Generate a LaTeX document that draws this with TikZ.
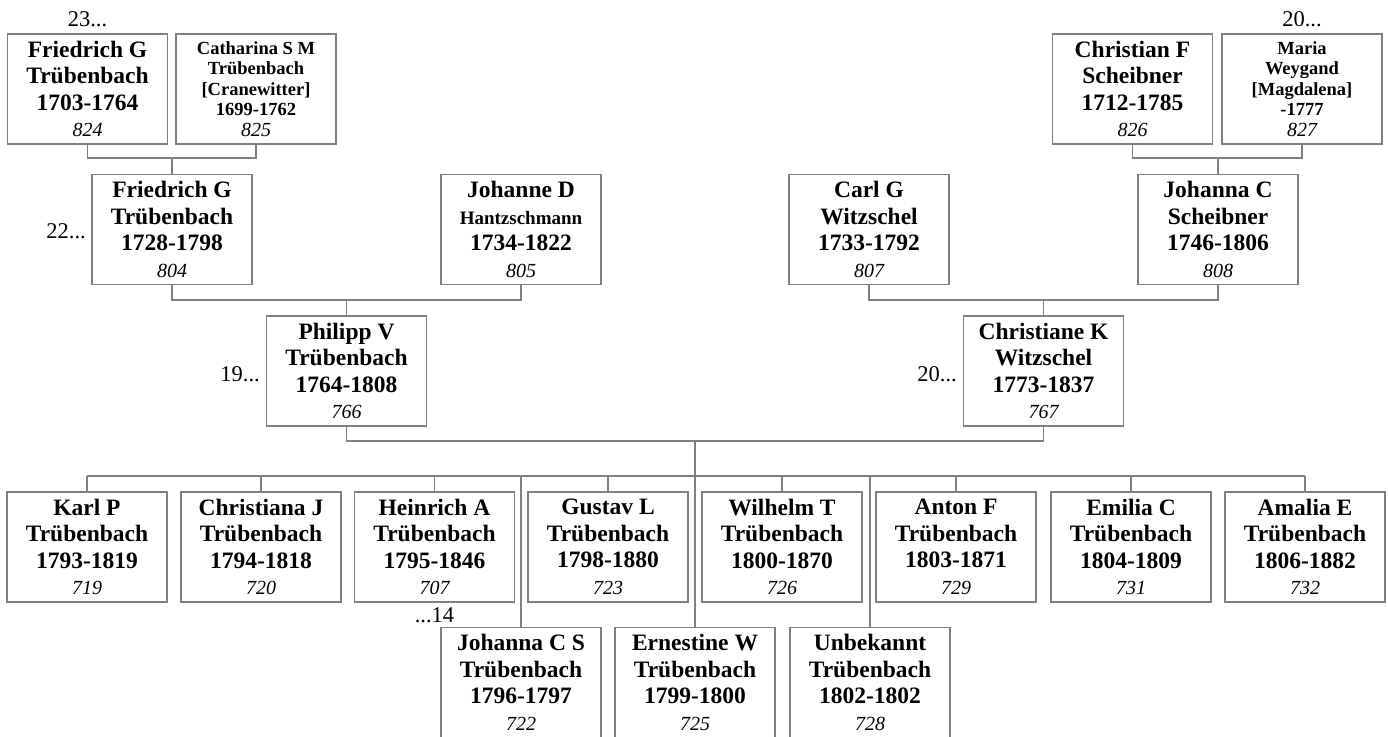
\documentclass[tikz,border=0pt]{standalone}
\usepackage{fontspec}
\setmainfont{Liberation Serif}
\definecolor{lg}{RGB}{128,128,128}
\tikzset{
 pbox/.style={draw=lg, line width=1.5pt, minimum width=160pt, minimum height=110pt, inner sep=0pt, align=center, font=\fontsize{23.5}{26.5}\selectfont\bfseries},
 sbox/.style={pbox, font=\fontsize{18.5}{20.5}\selectfont\bfseries},
 conn/.style={draw=lg, line width=1.5pt},
 gen/.style={font=\fontsize{22.5}{22.5}\selectfont, inner sep=0pt},
}
\newcommand{\idn}[1]{{\fontsize{20}{20}\selectfont\mdseries\itshape #1}}
\begin{document}
\begin{tikzpicture}[x=1pt,y=-1pt]
\useasboundingbox (0,0) rectangle (1388,736);
% generation 1
\node[pbox] (p824) at (87.5,89) {Friedrich G\\Trübenbach\\1703-1764\\\idn{824}};
\node[sbox] (p825) at (256,89) {Catharina S M\\Trübenbach\\{[}Cranewitter{]}\\1699-1762\\\idn{825}};
\node[pbox] (p826) at (1132.5,89) {Christian F\\Scheibner\\1712-1785\\\idn{826}};
\node[sbox] (p827) at (1302,89) {Maria\\Weygand\\{[}Magdalena{]}\\-1777\\\idn{827}};
% generation 2
\node[pbox] (p804) at (172,229.5) {Friedrich G\\Trübenbach\\1728-1798\\\idn{804}};
\node[pbox] (p805) at (521,229.5) {Johanne D\\{\fontsize{19}{26.5}\selectfont Hantzschmann}\\1734-1822\\\idn{805}};
\node[pbox] (p807) at (869,229.5) {Carl G\\Witzschel\\1733-1792\\\idn{807}};
\node[pbox] (p808) at (1218,229.5) {Johanna C\\Scheibner\\1746-1806\\\idn{808}};
% generation 3
\node[pbox] (p766) at (346.5,371) {Philipp V\\Trübenbach\\1764-1808\\\idn{766}};
\node[pbox] (p767) at (1043.5,371) {Christiane K\\Witzschel\\1773-1837\\\idn{767}};
% children row 1
\node[pbox] (c719) at (87,547) {Karl P\\Trübenbach\\1793-1819\\\idn{719}};
\node[pbox] (c720) at (261,547) {Christiana J\\Trübenbach\\1794-1818\\\idn{720}};
\node[pbox] (c707) at (434.5,547) {Heinrich A\\Trübenbach\\1795-1846\\\idn{707}};
\node[pbox] (c723) at (608,547) {Gustav L\\Trübenbach\\1798-1880\\\idn{723}};
\node[pbox] (c726) at (782,547) {Wilhelm T\\Trübenbach\\1800-1870\\\idn{726}};
\node[pbox] (c729) at (956,547) {Anton F\\Trübenbach\\1803-1871\\\idn{729}};
\node[pbox] (c731) at (1131,547) {Emilia C\\Trübenbach\\1804-1809\\\idn{731}};
\node[pbox] (c732) at (1305,547) {Amalia E\\Trübenbach\\1806-1882\\\idn{732}};
% children row 2
\node[pbox] (c722) at (521,682.5) {Johanna C S\\Trübenbach\\1796-1797\\\idn{722}};
\node[pbox] (c725) at (695,682.5) {Ernestine W\\Trübenbach\\1799-1800\\\idn{725}};
\node[pbox] (c728) at (870,682.5) {Unbekannt\\Trübenbach\\1802-1802\\\idn{728}};
% generation labels
\node[gen, anchor=base] (g23) at (87.5,27) {23...};
\node[gen, anchor=base] (g20a) at (1302,27) {20...};
\node[gen, anchor=base east] (g22) at (86,238) {22...};
\node[gen, anchor=base east] (g19) at (260,381) {19...};
\node[gen, anchor=base east] (g20b) at (957,381) {20...};
\node[gen, anchor=base] (g14) at (434.5,622) {...14};
% connectors
\coordinate (m1) at (p804.north |- 0,158);
\coordinate (m2) at (p808.north |- 0,158);
\coordinate (m3) at (p766.north |- 0,300);
\coordinate (m4) at (p767.north |- 0,300);
\coordinate (m5) at (c725.north |- 0,441);
\coordinate (bar) at (c725.north |- 0,476);
\draw[conn] (p824.south) |- (m1) -| (p825.south);
\draw[conn] (m1) -- (p804.north);
\draw[conn] (p826.south) |- (m2) -| (p827.south);
\draw[conn] (m2) -- (p808.north);
\draw[conn] (p804.south) |- (m3) -| (p805.south);
\draw[conn] (m3) -- (p766.north);
\draw[conn] (p807.south) |- (m4) -| (p808.south);
\draw[conn] (m4) -- (p767.north);
\draw[conn] (p766.south) |- (m5) -| (p767.south);
\draw[conn] (m5) -- (c725.north);
\draw[conn] (c719.north |- bar) -- (c732.north |- bar);
\foreach \c in {c719,c720,c707,c723,c726,c729,c731,c732,c722,c728}
  \draw[conn] (\c.north |- bar) -- (\c.north);
\end{tikzpicture}
\end{document}
